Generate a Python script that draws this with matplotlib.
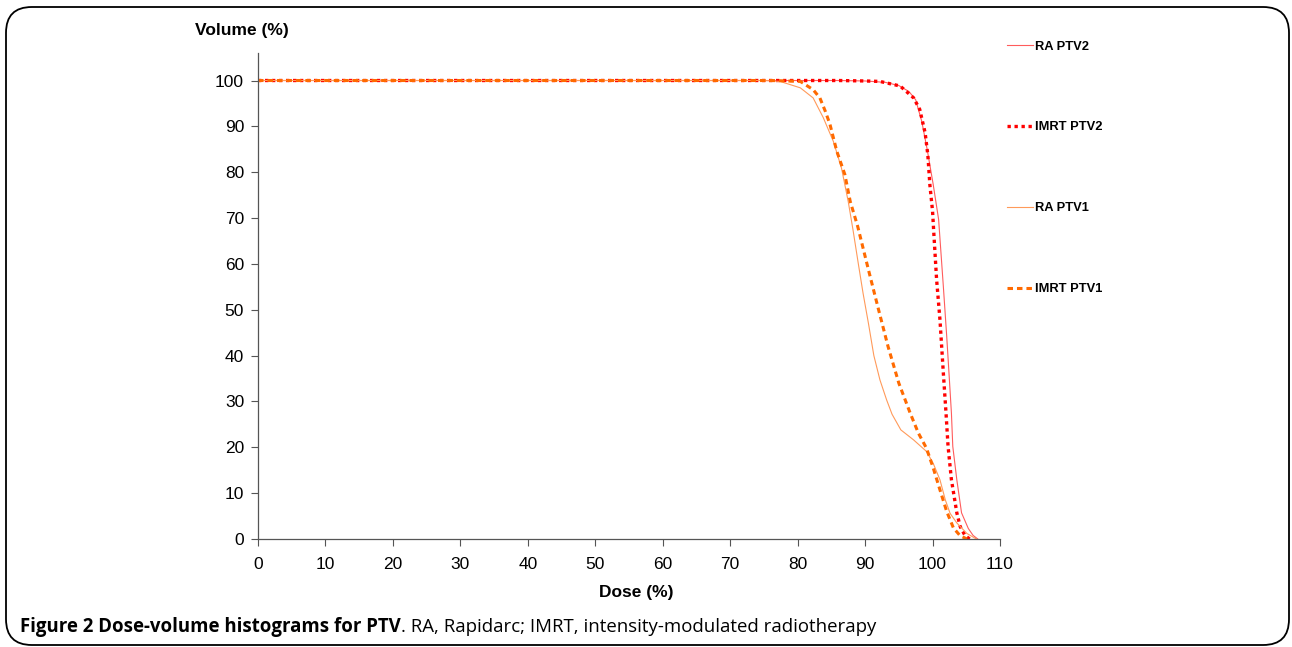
import matplotlib
matplotlib.use("Agg")
import matplotlib.pyplot as plt
from matplotlib.patches import FancyBboxPatch

plt.rcParams['font.family'] = ['Liberation Sans', 'DejaVu Sans']

# ---- data (dose %, volume %) ----
ra_ptv2_dose = [0, 86, 90, 93, 95, 96.5, 97.5, 98.4, 99.2, 100.1, 100.9, 101.6, 102.1, 102.5,
                102.8, 103.0, 103.6, 104.3, 105.3, 106.0, 106.7]
ra_ptv2_vol = [100, 100, 99.9, 99.6, 98.9, 97.6, 95.8, 91.1, 85.0, 77.3, 69.7, 55.1, 44.2, 34.7,
               27.4, 20.2, 12.9, 5.7, 2.3, 0.8, 0]

imrt_ptv2_dose = [0, 86, 90, 92.2, 95.2, 97.2, 98.1, 98.9, 99.3, 99.6, 100.0, 100.2, 100.6, 101.1,
                  101.6, 102.0, 102.3, 102.8, 103.6, 104.1, 104.8, 105.5]
imrt_ptv2_vol = [100, 100, 99.9, 99.8, 98.8, 96.2, 93.7, 88.6, 83.8, 77.3, 71.5, 66.4, 56.6, 47.8,
                 36.2, 27.4, 20.2, 12.9, 5.7, 2.7, 0.8, 0]

ra_ptv1_dose = [0, 75, 77.4, 80.4, 82.3, 83.8, 85.3, 86.5, 87.5, 88.2, 89.0, 89.7, 90.5, 91.3,
                92.2, 93.2, 94.0, 95.3, 97.2, 99.1, 100.1, 101.1, 101.9, 102.6, 103.6, 105.1, 106.5]
ra_ptv1_vol = [100, 100, 99.8, 98.4, 96.2, 91.9, 86.7, 80.9, 73.6, 67.5, 60.0, 53.6, 47.0, 40.0,
               34.7, 30.3, 27.2, 23.8, 21.6, 19.1, 16.5, 12.9, 8.5, 5.6, 3.5, 1.2, 0]

imrt_ptv1_dose = [0, 76, 78.5, 80.4, 82.3, 83.3, 84.1, 84.8, 85.8, 87.0, 87.8, 88.9, 90.5, 92.0,
                  93.4, 95.0, 96.7, 97.9, 99.1, 100.1, 101.1, 102.1, 103.1, 104.1, 105.1]
imrt_ptv1_vol = [100, 100, 99.9, 99.8, 98.0, 96.2, 93.3, 90.4, 84.6, 79.5, 73.6, 68.2, 58.7, 50.0,
                 42.0, 34.0, 27.4, 23.1, 19.8, 15.5, 10.7, 6.0, 2.4, 0.7, 0]

x_ticks = [0, 10, 20, 30, 40, 50, 60, 70, 80, 90, 100, 110]
y_ticks = [0, 10, 20, 30, 40, 50, 60, 70, 80, 90, 100]

fig = plt.figure(figsize=(12.92, 6.47), dpi=100)
ax = fig.add_axes([258 / 1292, 1 - 539 / 647, (1000 - 258) / 1292, (539 - 53) / 647])

l1, = ax.plot(ra_ptv2_dose, ra_ptv2_vol, color='#FF5C5C', lw=0.8, label='RA PTV2')
l2, = ax.plot(imrt_ptv2_dose, imrt_ptv2_vol, color='#FF0000', lw=2.4,
              linestyle=(0, (1.0, 1.1)), label='IMRT PTV2')
l3, = ax.plot(ra_ptv1_dose, ra_ptv1_vol, color='#FF9A5A', lw=0.8, label='RA PTV1')
l4, = ax.plot(imrt_ptv1_dose, imrt_ptv1_vol, color='#FF6A00', lw=2.2,
              linestyle=(0, (1.8, 1.3)), label='IMRT PTV1')

ax.set_xlim(0, 110)
ax.set_ylim(0, 106)
ax.set_xticks(x_ticks)
ax.set_yticks(y_ticks)
ax.tick_params(axis='both', labelsize=12.5, length=5, width=0.8, color='#555555')
ax.tick_params(axis='x', pad=8)
ax.tick_params(axis='y', pad=5)
for s in ['top', 'right']:
    ax.spines[s].set_visible(False)
for s in ['left', 'bottom']:
    ax.spines[s].set_color('#555555')
    ax.spines[s].set_linewidth(0.9)

fig.text(195 / 1292, 1 - 30 / 647, 'Volume (%)', fontsize=12.5, fontweight='bold', va='center', ha='left')
fig.text(636 / 1292, 1 - 592 / 647, 'Dose (%)', fontsize=12.5, fontweight='bold', va='center', ha='center')

leg = fig.legend(handles=[l1, l2, l3, l4], loc='upper left',
                 bbox_to_anchor=(1007 / 1292, 1 - 40.5 / 647), frameon=False,
                 prop={'weight': 'bold', 'size': 9.3}, handlelength=2.0, handletextpad=0.2,
                 labelspacing=5.33, borderaxespad=0, borderpad=0)

# rounded border
border = FancyBboxPatch((6 / 1292, 2 / 647), 1283 / 1292, 638 / 647,
                        boxstyle='round,pad=0,rounding_size=0.02',
                        transform=fig.transFigure, fill=False, edgecolor='black', lw=1.3,
                        mutation_aspect=1292 / 647)
fig.patches.append(border)

# caption
t1 = fig.text(20 / 1292, 1 - 627 / 647, 'Figure 2 Dose-volume histograms for PTV', fontsize=13.4,
              fontweight='bold', family='Open Sans', va='center', ha='left')
fig.canvas.draw()
bb = t1.get_window_extent()
fig.text(bb.x1 / 1292, 1 - 627 / 647, '. RA, Rapidarc; IMRT, intensity-modulated radiotherapy',
         fontsize=13.4, family='Open Sans', va='center', ha='left')

fig.savefig('out.png', dpi=100)
